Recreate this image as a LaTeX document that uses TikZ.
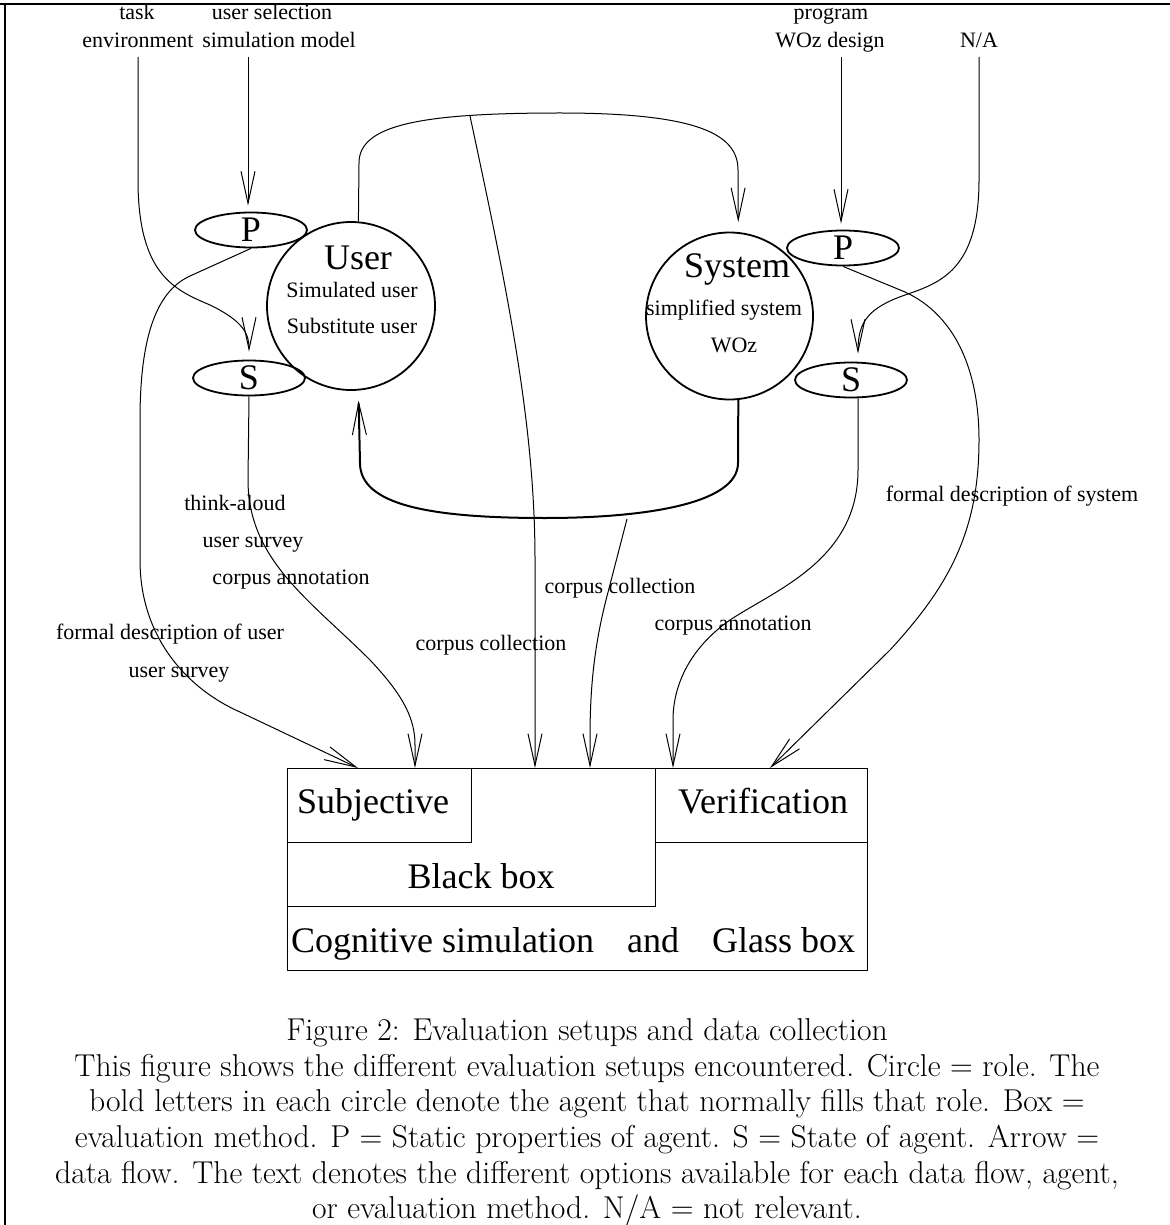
\documentclass[tikz,border=0pt]{standalone}
\usepackage{fontspec}
\newfontfamily\tms{Liberation Serif}
\usetikzlibrary{arrows.meta,shapes.geometric}
\begin{document}
\begin{tikzpicture}[x=0.5pt,y=-0.5pt,
  lbl/.style={font=\tms\fontsize{11}{13}\selectfont, inner sep=0pt, anchor=base},
  big/.style={font=\tms\fontsize{18}{21}\selectfont, inner sep=0pt, anchor=base},
  role/.style={draw, circle, line width=0.9pt, minimum size=#1, inner sep=0pt},
  agent/.style={draw, ellipse, line width=0.9pt, minimum width=56pt, minimum height=17.5pt, inner sep=0pt, font=\tms\fontsize{18}{21}\selectfont},
  flow/.style={line width=0.5pt, -{Straight Barb[length=16pt,width=7pt]}},
  thickflow/.style={line width=1pt, -{Straight Barb[length=16pt,width=7pt,line width=0.5pt]}},
  meth/.style={draw, rectangle, line width=0.5pt, inner sep=0pt, anchor=north west},
]
\useasboundingbox (0,0) rectangle (1170,1225);
% frame
\draw[line width=1pt] (0,4) -- (1170,4);
\draw[line width=1pt] (5,4) -- (5,1225);

% top labels
\node[lbl] (ltask) at (137,20) {task};
\node[lbl] (lenv) at (138,48) {environment};
\node[lbl] (lusel) at (272,20) {user selection};
\node[lbl] (lsim) at (279,48) {simulation model};
\node[lbl] (lprog) at (831,20) {program};
\node[lbl] (lwoz) at (830,48) {WOz design};
\node[lbl] (lna) at (979,48) {N/A};
\coordinate (a1s) at (138,57);
\coordinate (a2s) at (248,57);
\coordinate (a3s) at (841,57);
\coordinate (a4s) at (979,57);

% roles
\node[role=84pt] (uC) at (351,306) {};
\node[role=83.5pt] (sC) at (729.5,316) {};
\node[big] (uname) at (358,270) {User};
\node[lbl] (usim) at (352,297) {Simulated user};
\node[lbl] (usub) at (352,333) {Substitute user};
\node[big] (sname) at (737,278) {System};
\node[lbl] (ssimp) at (724,315) {simplified system};
\node[lbl] (swoz) at (734,352) {WOz};

% agents
\node[agent] (uP) at (251,230) {P};
\node[agent] (uS) at (249,378) {S};
\node[agent] (sP) at (843,248) {P};
\node[agent] (sS) at (851,380) {S};

% evaluation methods
\node[meth, minimum width=290pt, minimum height=101pt] (ebox) at (287,768) {};
\node[meth, minimum width=184pt, minimum height=69pt] (bbox) at (287,768) {};
\node[meth, minimum width=92pt, minimum height=37pt] (subj) at (287,768) {};
\node[meth, minimum width=106pt, minimum height=37pt] (verif) at (655,768) {};
\node[big] (tsubj) at (373,813) {Subjective};
\node[big] (tverif) at (763,813) {Verification};
\node[big] (tblack) at (481,888) {Black box};
\node[big] (tcog) at (573,952) {Cognitive simulation\hspace{16.5pt}and\hspace{16.5pt}Glass box};

\coordinate (in1) at (358,0 |- ebox.north);
\coordinate (in2) at (415,0 |- ebox.north);
\coordinate (in3) at (535,0 |- ebox.north);
\coordinate (in4) at (590,0 |- ebox.north);
\coordinate (in5) at (673,0 |- ebox.north);
\coordinate (in6) at (770,0 |- ebox.north);

% inputs from the top
\draw[flow, shorten >=4pt] (a1s) -- (138,180) .. controls (138,275) and (175,290) .. (210,305) .. controls (245,322) and (249,335) .. (uS.north);
\draw[flow, shorten >=3pt] (a2s) -- (a2s |- uP.north);
\draw[flow, shorten >=3pt] (a3s) -- (a3s |- sP.north);
\draw[flow, shorten >=4pt] (a4s) -- (979,180) .. controls (979,270) and (940,283) .. (905,295) .. controls (868,308) and (858,322) .. (858,0 |- sS.north);

% user -> system
\draw[flow, shorten >=5pt] (uC.85) -- (359,163) .. controls (359,125) and (420,113) .. (560,113) .. controls (700,113) and (738,135) .. (738,170) -- (sC.84);
\coordinate (cc1) at (470,116);
% system -> user (thick)
\draw[thickflow, shorten >=5pt] (sC.276) -- (738,463) .. controls (738,505) and (640,518) .. (545,518) .. controls (430,518) and (360,505) .. (360,463) -- (uC.275);
\coordinate (cc2) at (627,519);

% flows to the evaluation methods
\draw[flow] (uP.south) -- (190,276) .. controls (155,292) and (140,340) .. (140,420) -- (140,560) .. controls (140,640) and (190,690) .. (240,712) -- (in1);
\draw[flow] (uS.south) -- (248,480) .. controls (248,560) and (310,600) .. (370,660) .. controls (405,697) and (415,720) .. (415,745) -- (in2);
\draw[flow] (cc1) .. controls (505,280) and (535,420) .. (535,560) -- (in3);
\draw[flow] (cc2) -- (606,600) .. controls (592,655) and (590,700) .. (590,740) -- (in4);
\draw[flow] (858,0 |- sS.south) -- (858,470) .. controls (858,560) and (775,590) .. (730,620) .. controls (690,648) and (673,685) .. (673,720) -- (in5);
\draw[flow] (sP.south) -- (905,292) .. controls (955,315) and (979,370) .. (979,440) .. controls (979,530) and (950,585) .. (890,650) -- (in6);

% flow labels
\node[lbl] (lthink) at (235,510) {think-aloud};
\node[lbl] (lus1) at (253,547) {user survey};
\node[lbl] (lca1) at (291,584) {corpus annotation};
\node[lbl] (lfdu) at (170,639) {formal description of user};
\node[lbl] (lus2) at (179,677) {user survey};
\node[lbl] (lcc1) at (491,650) {corpus collection};
\node[lbl] (lcc2) at (620,593) {corpus collection};
\node[lbl] (lca2) at (733,630) {corpus annotation};
\node[lbl] (lfds) at (1012,501) {formal description of system};

% caption
\node[font=\fontsize{15.8}{17.85}\selectfont, align=center, anchor=north, inner sep=0pt] (cap) at (587,1018) {Figure 2: Evaluation setups and data collection\\
This figure shows the different evaluation setups encountered. Circle = role. The\\
bold letters in each circle denote the agent that normally fills that role. Box =\\
evaluation method. P = Static properties of agent. S = State of agent. Arrow =\\
data flow. The text denotes the different options available for each data flow, agent,\\
or evaluation method. N/A = not relevant.};
\end{tikzpicture}
\end{document}
